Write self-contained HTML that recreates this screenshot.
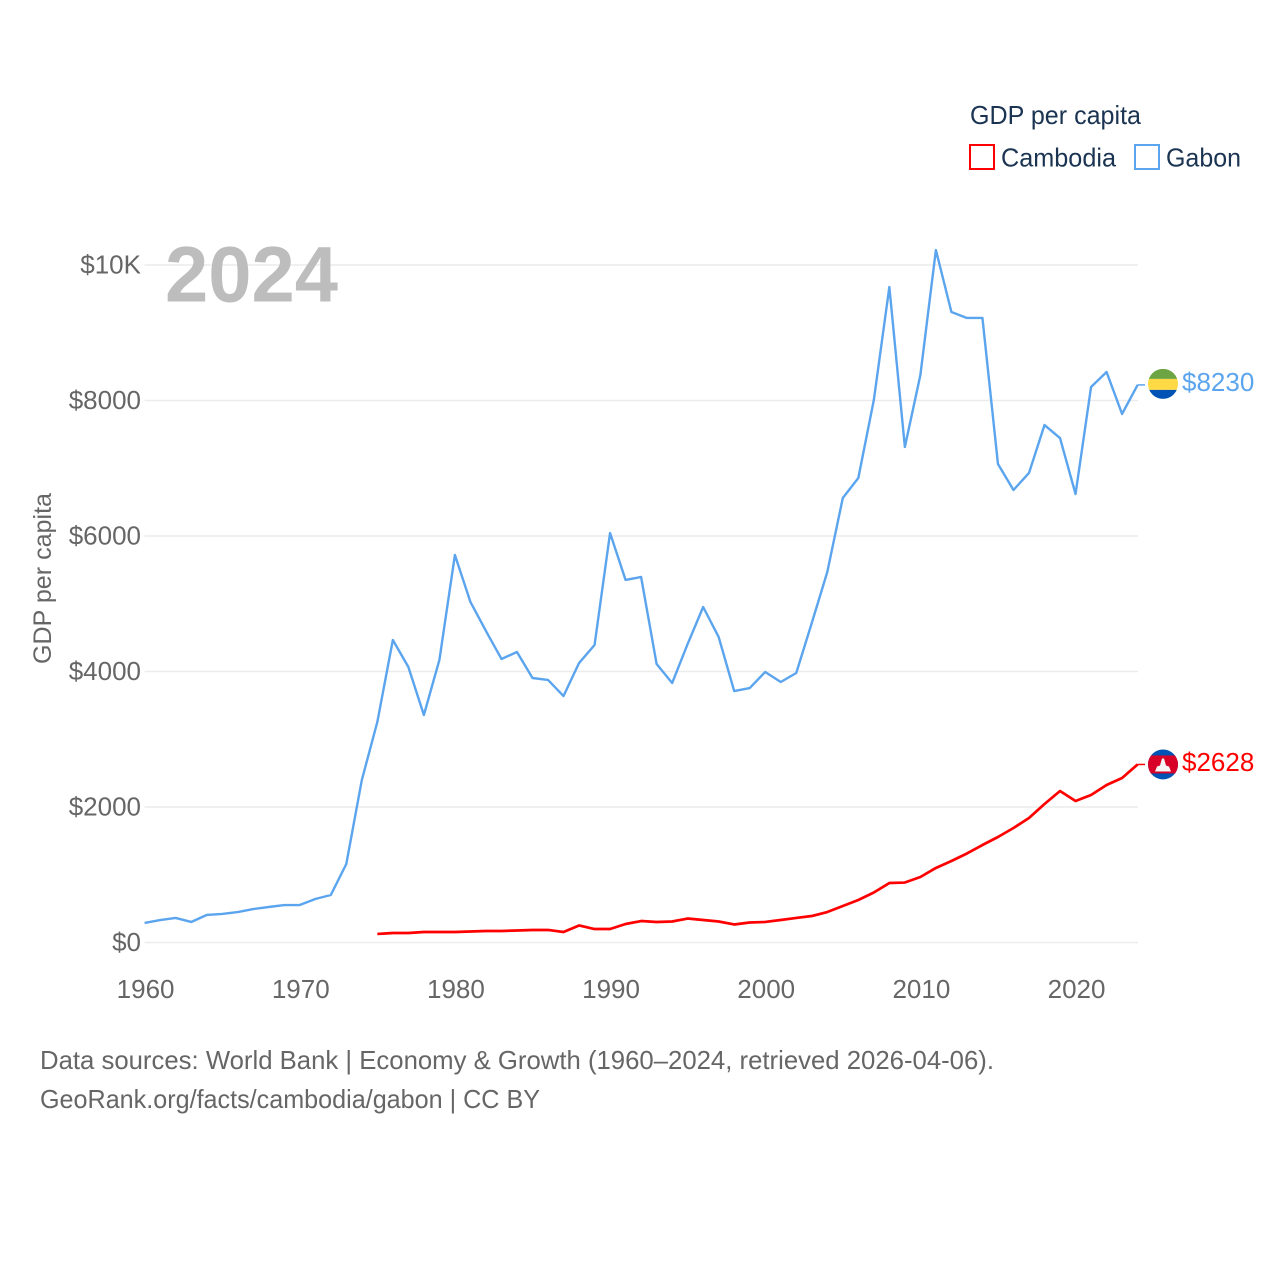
<!DOCTYPE html>
<html lang="en">
<head>
<meta charset="utf-8">
<title>GDP per capita: Cambodia and Gabon</title>
<style>
html,body{margin:0;padding:0;background:#fff;}
svg{display:block;}
text{font-family:"Liberation Sans",sans-serif;}
</style>
</head>
<body>
<svg id="chart" xmlns="http://www.w3.org/2000/svg" width="1280" height="1280" viewBox="0 0 1280 1280">
  <rect x="0" y="0" width="1280" height="1280" fill="#ffffff"/>
  <g id="grid"></g>
  <g id="yticks"></g>
  <g id="xticks"></g>
  <text x="165" y="301.5" font-size="79" font-weight="700" fill="#bdbdbd" textLength="173" lengthAdjust="spacingAndGlyphs">2024</text>
  <text transform="translate(51,664) rotate(-90)" font-size="25" fill="#666666" textLength="171" lengthAdjust="spacingAndGlyphs">GDP per capita</text>
  <g id="series"></g>
  <g id="endmarks"></g>
  <g>
    <text x="970" y="124" font-size="26" fill="#1b3452" textLength="171" lengthAdjust="spacingAndGlyphs">GDP per capita</text>
    <rect x="970" y="145" width="24" height="24" fill="none" stroke="#ff0000" stroke-width="2"/>
    <text x="1001" y="166.5" font-size="26" fill="#1b3452" textLength="115" lengthAdjust="spacingAndGlyphs">Cambodia</text>
    <rect x="1135" y="145" width="24" height="24" fill="none" stroke="#5ba4ee" stroke-width="2"/>
    <text x="1166" y="166.5" font-size="26" fill="#1b3452" textLength="75" lengthAdjust="spacingAndGlyphs">Gabon</text>
  </g>
  <text x="40" y="1069" font-size="26" fill="#666666" textLength="954" lengthAdjust="spacingAndGlyphs">Data sources: World Bank | Economy &amp; Growth (1960–2024, retrieved 2026-04-06).</text>
  <text x="40" y="1108" font-size="26" fill="#666666" textLength="500" lengthAdjust="spacingAndGlyphs">GeoRank.org/facts/cambodia/gabon | CC BY</text>
</svg>
<script>
const years = [1960,1961,1962,1963,1964,1965,1966,1967,1968,1969,1970,1971,1972,1973,1974,1975,1976,1977,1978,1979,1980,1981,1982,1983,1984,1985,1986,1987,1988,1989,1990,1991,1992,1993,1994,1995,1996,1997,1998,1999,2000,2001,2002,2003,2004,2005,2006,2007,2008,2009,2010,2011,2012,2013,2014,2015,2016,2017,2018,2019,2020,2021,2022,2023,2024];
const gabonValues = [288,332,362,303,406,421,450,494,524,553,553,642,701,1159,2398,3255,4465,4066,3358,4170,5720,5026,4598,4185,4288,3904,3875,3638,4125,4391,6044,5351,5395,4111,3830,4406,4952,4509,3712,3756,3993,3845,3978,4716,5469,6561,6856,8007,9675,7314,8376,10221,9306,9218,9218,7063,6679,6930,7638,7446,6620,8199,8421,7801,8230];
const cambodiaValues = [null,null,null,null,null,null,null,null,null,null,null,null,null,null,null,126,140,140,155,155,155,162,170,170,177,185,185,155,251,199,199,273,317,303,310,354,332,310,266,295,303,332,362,391,450,539,627,738,878,885,967,1100,1203,1314,1439,1557,1690,1838,2044,2236,2089,2177,2325,2428,2628];
const yTickValues = [0,2000,4000,6000,8000,10000];
const yTickLabels = ["$0","$2000","$4000","$6000","$8000","$10K"];
const xTickValues = [1960,1970,1980,1990,2000,2010,2020];
const xTickLabels = ["1960","1970","1980","1990","2000","2010","2020"];

const NS = "http://www.w3.org/2000/svg";
const plotLeft = 144.6, plotRight = 1137.6, plotBottom = 942.5, plotTop = 265;
function xScale(year){ return plotLeft + (year - 1960) * (plotRight - plotLeft) / (2024 - 1960); }
function yScale(value){ return plotBottom - value * (plotBottom - plotTop) / 10000; }
function make(tag, attrs, parent){
  const el = document.createElementNS(NS, tag);
  for (const k in attrs) el.setAttribute(k, attrs[k]);
  parent.appendChild(el);
  return el;
}

const gridGroup = document.getElementById('grid');
const yGroup = document.getElementById('yticks');
yTickValues.forEach(function(v, i){
  const line = make('line', {x1:plotLeft, x2:plotRight + 0.4, y1:yScale(v), y2:yScale(v), stroke:'#ececec', 'stroke-width':1.5}, gridGroup);
  
  
  const t = make('text', {x:141, y:yScale(v)+8.5, 'text-anchor':'end', 'font-size':26, fill:'#666666'}, yGroup);
  t.textContent = yTickLabels[i];
  
  
});

const xGroup = document.getElementById('xticks');
xTickValues.forEach(function(v, i){
  const t = make('text', {x:xScale(v) + 1, y:998, 'text-anchor':'middle', 'font-size':26, fill:'#666666'}, xGroup);
  t.textContent = xTickLabels[i];
  
  
});

function linePath(values){
  let d = '';
  values.forEach(function(v, i){
    if (v === null) return;
    d += (d ? 'L' : 'M') + xScale(years[i]).toFixed(2) + ' ' + yScale(v).toFixed(2);
  });
  return d;
}

const seriesGroup = document.getElementById('series');
const gabonLine = make('path', {d:linePath(gabonValues), fill:'none', stroke:'#5ba4ee', 'stroke-width':2.4, 'stroke-linejoin':'round'}, seriesGroup);


const cambodiaLine = make('path', {d:linePath(cambodiaValues), fill:'none', stroke:'#ff0000', 'stroke-width':2.7, 'stroke-linejoin':'round'}, seriesGroup);



const endGroup = document.getElementById('endmarks');
const defs = make('defs', {}, endGroup);
const flagX = 1163, flagR = 15;

function circleClip(id, cy){
  const cp = make('clipPath', {id:id}, defs);
  make('circle', {cx:flagX, cy:cy, r:flagR}, cp);
}

/* Gabon end connector, flag and value */
const gabonLast = gabonValues[gabonValues.length - 1];
const gabonY = yScale(gabonLast) - 1;
const gabonConnector = make('line', {x1:xScale(2024), x2:1145, y1:yScale(gabonLast), y2:yScale(gabonLast), stroke:'#5ba4ee', 'stroke-width':1.5}, endGroup);


circleClip('clip-gabon', gabonY);
const gabonFlag = make('g', {'clip-path':'url(#clip-gabon)'}, endGroup);


make('rect', {x:flagX-flagR, y:gabonY-flagR, width:30, height:10, fill:'#6da544'}, gabonFlag);
make('rect', {x:flagX-flagR, y:gabonY-5, width:30, height:11, fill:'#ffda44'}, gabonFlag);
make('rect', {x:flagX-flagR, y:gabonY+6, width:30, height:9, fill:'#0052b4'}, gabonFlag);
const gabonLabel = make('text', {x:1182, y:gabonY+7, 'font-size':26, fill:'#5ba4ee'}, endGroup);
gabonLabel.textContent = '$' + gabonLast;



/* Cambodia end connector, flag and value */
const cambodiaLast = cambodiaValues[cambodiaValues.length - 1];
const cambodiaY = yScale(cambodiaLast);
const cambodiaConnector = make('line', {x1:xScale(2024), x2:1145, y1:cambodiaY, y2:cambodiaY, stroke:'#ff0000', 'stroke-width':1.5}, endGroup);


circleClip('clip-cambodia', cambodiaY);
const cambodiaFlag = make('g', {'clip-path':'url(#clip-cambodia)'}, endGroup);


make('rect', {x:flagX-flagR, y:cambodiaY-flagR, width:30, height:30, fill:'#0052b4'}, cambodiaFlag);
make('rect', {x:flagX-flagR, y:cambodiaY-9, width:30, height:18, fill:'#d80027'}, cambodiaFlag);
make('path', {d:'M'+(flagX-8)+' '+(cambodiaY+7)+'L'+(flagX-6)+' '+(cambodiaY+2)+'L'+(flagX-3)+' '+(cambodiaY+1)+'L'+(flagX-1)+' '+(cambodiaY-6)+'L'+(flagX+1)+' '+(cambodiaY-6)+'L'+(flagX+3)+' '+(cambodiaY+1)+'L'+(flagX+6)+' '+(cambodiaY+2)+'L'+(flagX+8)+' '+(cambodiaY+7)+'Z', fill:'#f5f5f5'}, cambodiaFlag);
const cambodiaLabel = make('text', {x:1182, y:cambodiaY+6.5, 'font-size':26, fill:'#ff0000'}, endGroup);
cambodiaLabel.textContent = '$' + cambodiaLast;


</script>
</body>
</html>
